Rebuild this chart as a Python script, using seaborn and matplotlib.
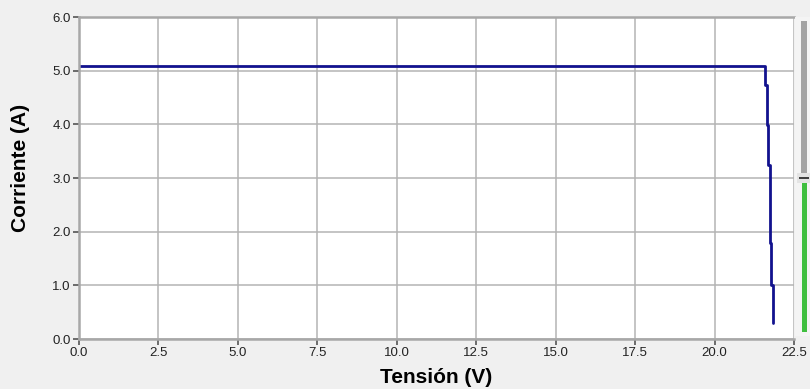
import matplotlib
matplotlib.use("Agg")
import matplotlib.pyplot as plt
from matplotlib.patches import Rectangle
import seaborn as sns
import pandas as pd

# Data (steps-post I-V curve)
tension = [0.0, 21.59, 21.64, 21.69, 21.73, 21.75, 21.78, 21.83]
corriente = [5.09, 4.73, 3.99, 3.24, 2.50, 1.79, 1.01, 0.30]
x_ticks = [0.0, 2.5, 5.0, 7.5, 10.0, 12.5, 15.0, 17.5, 20.0, 22.5]
y_ticks = [0.0, 1.0, 2.0, 3.0, 4.0, 5.0, 6.0]
x_label = "Tensión (V)"
y_label = "Corriente (A)"

sns.set_theme(style="white")
plt.rcParams['font.family'] = ['Liberation Sans', 'DejaVu Sans']

W, H = 810, 389
fig = plt.figure(figsize=(W / 100, H / 100), dpi=100, facecolor="#f0f0f0")
ax = fig.add_axes([79 / W, (H - 339) / H, (794 - 79) / W, (339 - 17) / H])
ax.set_facecolor("white")

df = pd.DataFrame({"Tension": tension, "Corriente": corriente})
sns.lineplot(data=df, x="Tension", y="Corriente", ax=ax, color="#12128e",
             linewidth=2.0, drawstyle="steps-post", sort=False)

ax.set_xlim(0, 22.5)
ax.set_ylim(0, 6.0)
ax.set_xticks(x_ticks)
ax.set_yticks(y_ticks)
ax.set_xticklabels([f"{v:.1f}" for v in x_ticks])
ax.set_yticklabels([f"{v:.1f}" for v in y_ticks])
ax.grid(True, color="#b4b4b4", linewidth=1.1)
ax.set_axisbelow(True)

for side in ["left", "bottom", "top"]:
    ax.spines[side].set_visible(True)
    ax.spines[side].set_color("#a8a8a8")
    ax.spines[side].set_linewidth(1.8)
ax.spines["right"].set_visible(False)

ax.tick_params(axis="both", which="major", direction="out", length=4, width=1.2,
               color="#555555", labelsize=9.5, labelcolor="#222222", pad=2,
               left=True, bottom=True)

ax.set_xlabel(x_label, fontsize=15, fontweight="bold", color="black", labelpad=4)
ax.set_ylabel(y_label, fontsize=15, fontweight="bold", color="black")
ax.yaxis.set_label_coords(-0.068, 0.53)
ax.xaxis.set_label_coords(0.5, -0.12)
ax.xaxis.label.set_va("center")

# Scrollbar widget on the right side
def rect(x0, y0, x1, y1, color, z=5):
    fig.add_artist(Rectangle((x0 / W, 1 - y1 / H), (x1 - x0) / W, (y1 - y0) / H,
                             transform=fig.transFigure, facecolor=color,
                             edgecolor="none", zorder=z))

rect(795, 17, 810, 336, "#f4f4f4", 4)
rect(801, 21, 807, 174, "#a3a3a3")
rect(797, 173, 810, 183, "#e4e4e4")
rect(799, 176.5, 809, 178.5, "#404040", 6)
rect(802, 183, 807, 332, "#3fbf3f")

fig.savefig("out.png", dpi=100, facecolor=fig.get_facecolor())
